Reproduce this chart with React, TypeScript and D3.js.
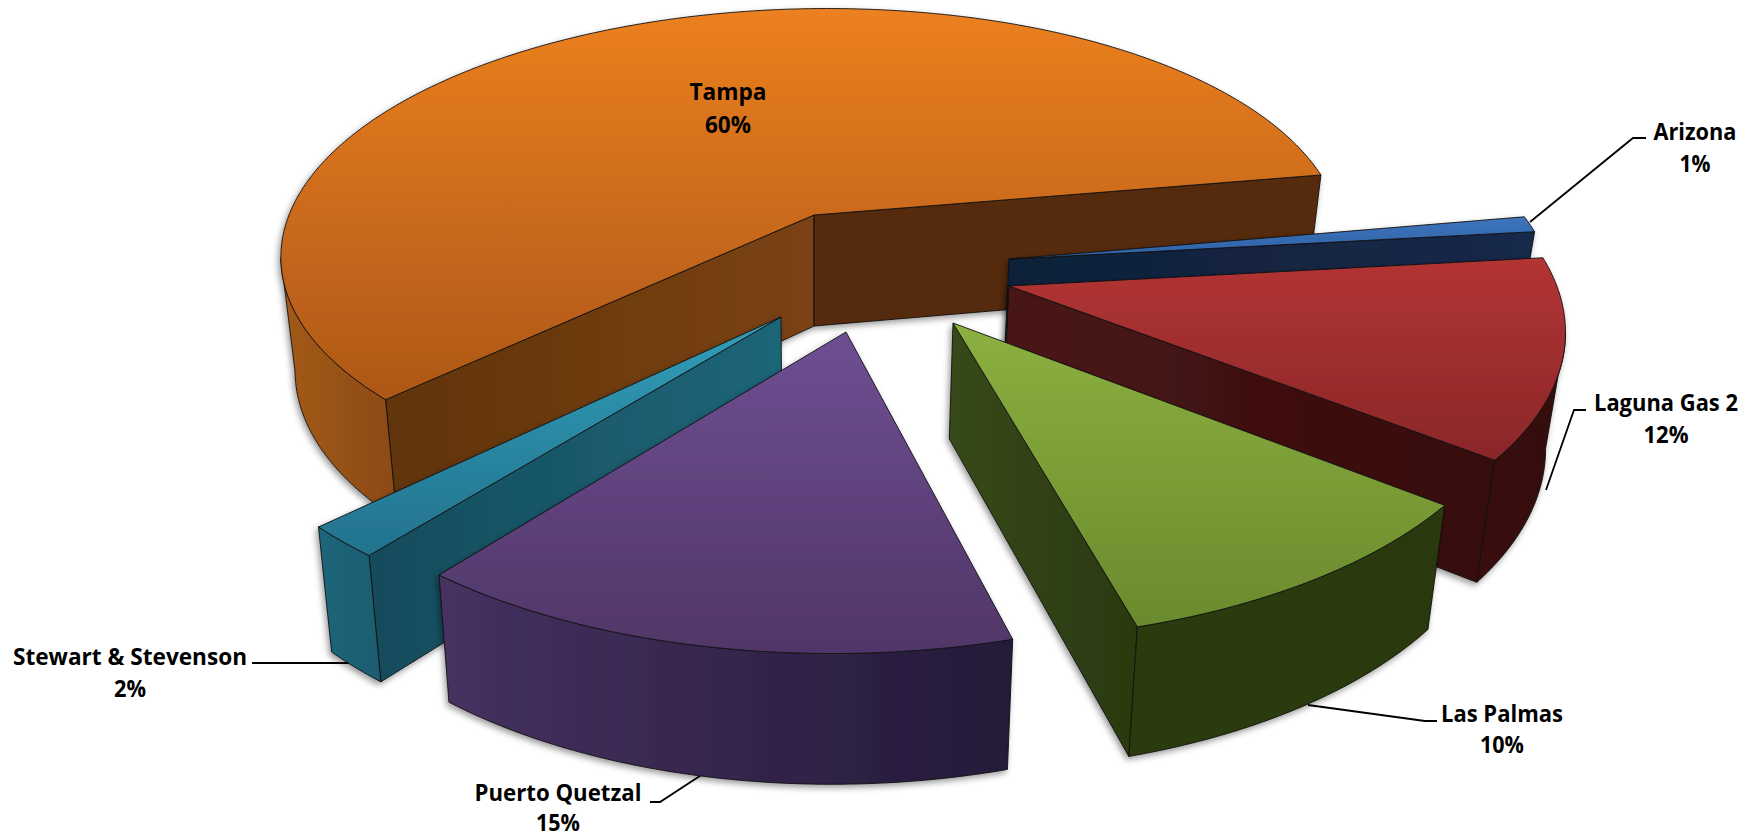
import React from "react";
import * as d3 from "d3";

const categories = ["Arizona", "Laguna Gas 2", "Las Palmas", "Puerto Quetzal", "Stewart & Stevenson", "Tampa"];
const shares = [1.0, 12.3, 10.1, 15.0, 2.0, 59.6];

const W = 1759, H = 839;
const CX = 814, CY = 215, RX = 525, RY = 236.4, P = 0.145, SHEAR = -0.065;
const START = (80 * Math.PI) / 180;

const project = (u: number, v: number): [number, number] => {
  const y = (RY * v) / (1 - P * v);
  return [CX + (RX * u) / (1 - P * v) + SHEAR * y, CY + y];
};
const unproject = (x: number, y: number): [number, number] => {
  const Y = (y - CY) / RY;
  const v = Y / (1 + P * Y);
  return [((x - SHEAR * (y - CY) - CX) / RX) * (1 - P * v), v];
};
const drop = (p: [number, number]): [number, number] => [CX + (p[0] - CX) * 0.9735, p[1] + 111 + 0.045 * (p[1] - 215)];

type Look = { apex: [number, number]; top: string[]; sw: string[]; ew: string[]; ow: string[]; radius: number };
const looks: Record<string, Look> = {
  Arizona: { apex: [1009, 259], radius: 1, top: ["#3D74BC", "#2F62A6"], sw: ["#14294A", "#14294A"], ew: ["#0F2038", "#16294A"], ow: ["#16294A", "#16294A"] },
  "Laguna Gas 2": { apex: [1009, 286], radius: 1, top: ["#B33434", "#8A2728"], sw: ["#3A0E0E", "#3A0E0E"], ew: ["#4A1515", "#360D0D"], ow: ["#3A0E0E", "#340C0C"] },
  "Las Palmas": { apex: [953, 323], radius: 1, top: ["#8CB040", "#6A8A2D"], sw: ["#2A3910", "#2A3910"], ew: ["#37491A", "#2A3910"], ow: ["#2C3B11", "#2A3910"] },
  "Puerto Quetzal": { apex: [846, 332], radius: 1, top: ["#6E4F92", "#503668"], sw: ["#2A1E3E", "#2A1E3E"], ew: ["#463160", "#241A38"], ow: ["#463160", "#241A38"] },
  "Stewart & Stevenson": { apex: [781, 317], radius: 1, top: ["#319EBA", "#23728C"], sw: ["#154B5C", "#1E6679"], ew: ["#1D667B", "#1A5C6F"], ow: ["#1D667B", "#1A5C6F"] },
  Tampa: { apex: [814, 215], radius: 1, top: ["#EC8020", "#AD5718"], sw: ["#613410", "#7B4212"], ew: ["#552B0C", "#552B0C"], ow: ["#A35A19", "#8C4A14"] },
};
const drawOrder = ["Tampa", "Arizona", "Laguna Gas 2", "Las Palmas", "Stewart & Stevenson", "Puerto Quetzal"];

type Lbl = { name: string; cx: number; y1: number; y2: number; w1: number; w2: number; leader?: [number, number][] };
const labels: Lbl[] = [
  { name: "Tampa", cx: 728, y1: 100, y2: 133, w1: 77, w2: 46 },
  { name: "Arizona", cx: 1695, y1: 140, y2: 172, w1: 83, w2: 31, leader: [[1646, 138], [1633, 138], [1530, 222]] },
  { name: "Laguna Gas 2", cx: 1666, y1: 411, y2: 443, w1: 144, w2: 45, leader: [[1586, 410], [1574, 410], [1546, 490]] },
  { name: "Las Palmas", cx: 1502, y1: 722, y2: 753, w1: 122, w2: 44, leader: [[1437, 721], [1425, 721], [1308, 705]] },
  { name: "Puerto Quetzal", cx: 558, y1: 801, y2: 831, w1: 167, w2: 44, leader: [[650, 802], [660, 802], [709, 770]] },
  { name: "Stewart & Stevenson", cx: 130, y1: 665, y2: 697, w1: 234, w2: 32, leader: [[252, 663], [362, 663]] },
];

const lineGen = d3.line<[number, number]>();
const poly = (pts: [number, number][]) => (lineGen(pts) as string) + "Z";

export default function App() {
  const arcs = d3.pie<number>().sort(null).startAngle(START).endAngle(START + 2 * Math.PI)(shares);
  const slices = categories.map((name, i) => {
    const look = looks[name];
    const a = arcs[i];
    const [u0, v0] = unproject(look.apex[0], look.apex[1]);
    const at = (t: number) => project(u0 + look.radius * Math.sin(t), v0 - look.radius * Math.cos(t));
    const n = Math.max(2, Math.ceil((a.endAngle - a.startAngle) / 0.01));
    const ts = d3.range(n + 1).map((k) => a.startAngle + ((a.endAngle - a.startAngle) * k) / n);
    const rim = ts.map(at);
    const apex = project(u0, v0);
    const mid = at((a.startAngle + a.endAngle) / 2);
    const inner: [number, number] = [(apex[0] + mid[0]) / 2, (apex[1] + mid[1]) / 2];
    const faces = (b: [number, number]) => {
      let nx = -(b[1] - apex[1]), ny = b[0] - apex[0];
      if (nx * (inner[0] - apex[0]) + ny * (inner[1] - apex[1]) > 0) { nx = -nx; ny = -ny; }
      return ny > 0;
    };
    const startEdge = rim[0], endEdge = rim[rim.length - 1];
    const vis: [number, number][] = [];
    for (let k = 1; k < rim.length; k++) {
      if (rim[k][0] < rim[k - 1][0]) {
        if (!vis.length) vis.push(rim[k - 1]);
        vis.push(rim[k]);
      }
    }
    return {
      name, look, id: i,
      top: poly([apex, ...rim]),
      sw: faces(startEdge) ? poly([apex, startEdge, drop(startEdge), drop(apex)]) : null,
      ew: faces(endEdge) ? poly([apex, endEdge, drop(endEdge), drop(apex)]) : null,
      ow: vis.length > 1 ? poly([...vis, ...vis.slice().reverse().map(drop)]) : null,
    };
  });
  const stroke = { stroke: "#111", strokeWidth: 0.9, strokeLinejoin: "round" as const };
  const font = { fontFamily: "'Open Sans', 'Noto Sans', sans-serif", fontWeight: 700, fontSize: 24, fill: "#000" };
  const grad = (id: string, c: string[], vertical: boolean) => (
    <linearGradient key={id} id={id} x1="0" y1="0" x2={vertical ? 0 : 1} y2={vertical ? 1 : 0}>
      <stop offset="0" stopColor={c[0]} />
      <stop offset="1" stopColor={c[1]} />
    </linearGradient>
  );
  return (
    <svg width={W} height={H} viewBox={`0 0 ${W} ${H}`} style={{ position: "absolute", left: 0, top: 0, background: "#fff", display: "block" }}>
      <defs>
        <filter id="sh" x="-10%" y="-10%" width="120%" height="120%">
          <feDropShadow dx="-2" dy="3" stdDeviation="3" floodColor="#000" floodOpacity="0.4" />
        </filter>
        {slices.flatMap((s) => [
          grad(`top${s.id}`, s.look.top, true),
          grad(`sw${s.id}`, s.look.sw, false),
          grad(`ew${s.id}`, s.look.ew, false),
          grad(`ow${s.id}`, s.look.ow, false),
        ])}
      </defs>
      {labels.filter((l) => l.leader).map((l) => (
        <path key={l.name} d={lineGen(l.leader as [number, number][]) as string} fill="none" stroke="#000" strokeWidth={1.8} />
      ))}
      {drawOrder.map((name) => {
        const s = slices.find((x) => x.name === name)!;
        return (
          <g key={name} filter="url(#sh)">
            {s.sw && <path d={s.sw} fill={`url(#sw${s.id})`} {...stroke} />}
            {s.ew && <path d={s.ew} fill={`url(#ew${s.id})`} {...stroke} />}
            {s.ow && <path d={s.ow} fill={`url(#ow${s.id})`} {...stroke} />}
            <path d={s.top} fill={`url(#top${s.id})`} {...stroke} />
          </g>
        );
      })}
      {labels.map((l) => {
        const i = categories.indexOf(l.name);
        return (
          <g key={l.name} textAnchor="middle" {...font}>
            <text x={l.cx} y={l.y1} textLength={l.w1} lengthAdjust="spacingAndGlyphs">{l.name}</text>
            <text x={l.cx} y={l.y2} textLength={l.w2} lengthAdjust="spacingAndGlyphs">{Math.round(shares[i])}%</text>
          </g>
        );
      })}
    </svg>
  );
}
